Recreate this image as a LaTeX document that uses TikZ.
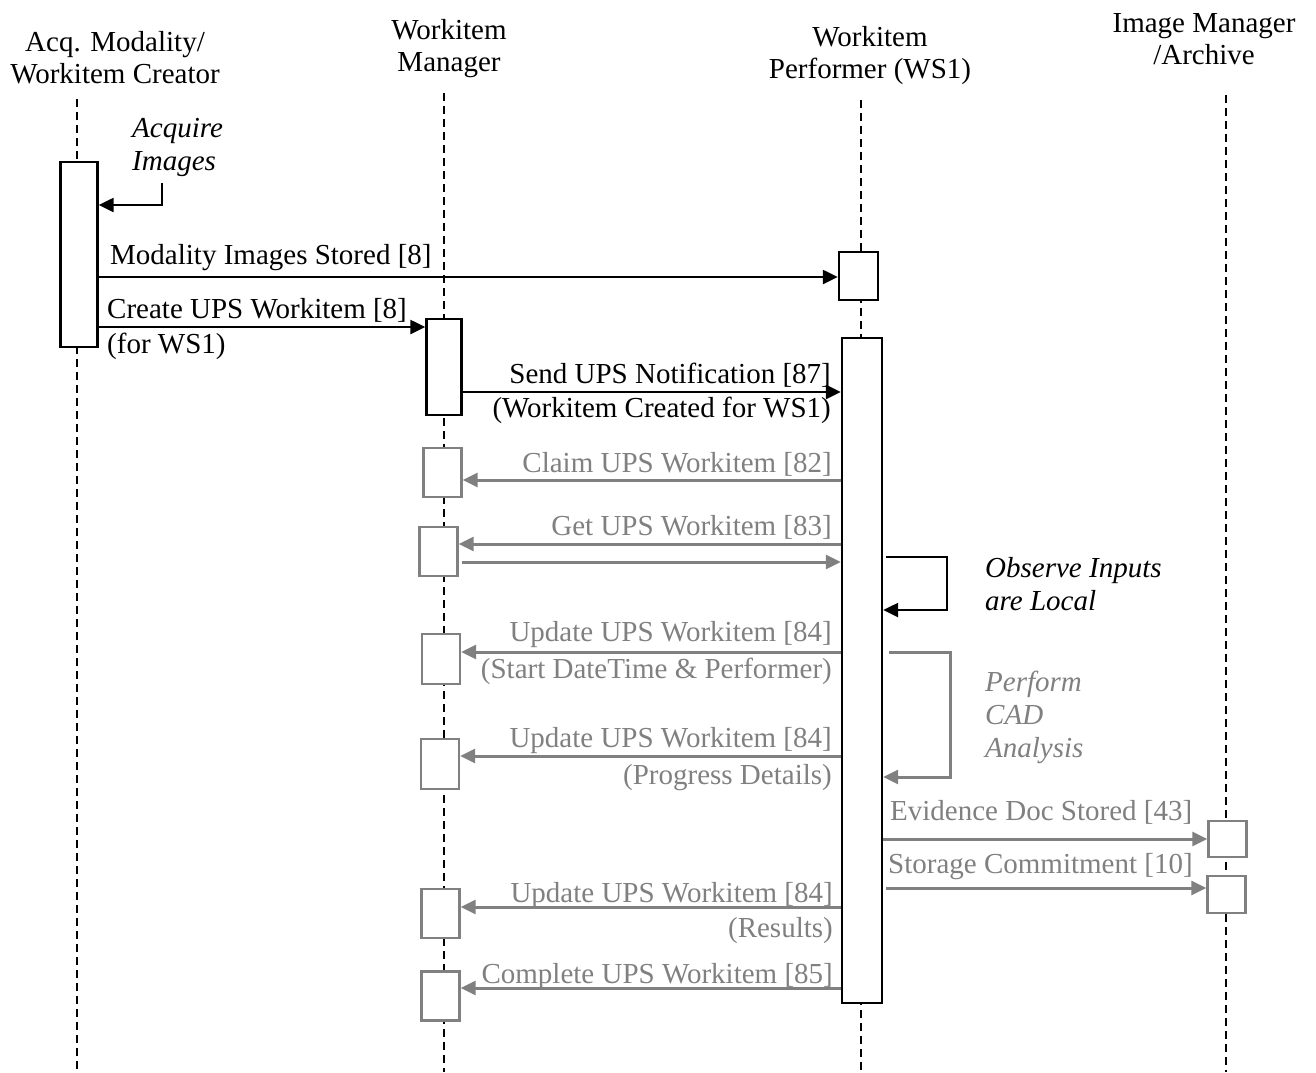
\documentclass[tikz,border=0pt]{standalone}
\usepackage{fontspec}
\setmainfont{Liberation Serif}
\usetikzlibrary{arrows.meta,positioning}
\definecolor{msggray}{RGB}{128,128,128}
\tikzset{
  actor/.style={align=center,inner sep=0pt,font=\fontsize{29}{32}\selectfont},
  lifeline/.style={line width=2pt,dash pattern=on 8pt off 5pt},
  actbox/.style={draw,line width=2.4pt,fill=white,inner sep=0pt},
  gactbox/.style={draw=msggray,line width=2.4pt,fill=white,inner sep=0pt,
    minimum width=38,minimum height=49},
  msg/.style={-{Triangle[length=15pt,width=14pt]},line width=2.4pt},
  gmsg/.style={-{Triangle[length=15pt,width=14pt]},line width=3pt,draw=msggray},
  lab/.style={inner sep=0pt,font=\fontsize{29}{32}\selectfont},
  glab/.style={lab,text=msggray},
  note/.style={inner sep=0pt,align=left,font=\fontsize{29}{33}\selectfont\itshape},
  gnote/.style={note,text=msggray}
}

\begin{document}
\begin{tikzpicture}[x=1pt,y=-1pt]
  \useasboundingbox (0,0) rectangle (1316,1072);

  % actors and lifelines
  \node[actor] (acqhd) at (115,58) {Acq. Modality/\\Workitem Creator};
  \node[actor] (mgrhd) at (449,49) {Workitem\\Manager};
  \node[actor] (perfhd) at (870,55.5) {Workitem\\Performer (WS1)};
  \node[actor] (archhd) at (1204,39.5) {Image Manager\\/Archive};
  \draw[lifeline] (77,99) -- (77,1072);
  \draw[lifeline] (444,93) -- (444,1072);
  \draw[lifeline] (861,100) -- (861,1072);
  \draw[lifeline] (1226,95) -- (1226,1072);

  % activations
  \node[actbox,minimum width=37,minimum height=185] (acq) at (79,254.5) {};
  \node[actbox,minimum width=39,minimum height=48] (perfA) at (858.5,276) {};
  \node[actbox,minimum width=35,minimum height=96] (mgrA) at (444,367) {};
  \node[actbox,minimum width=40,minimum height=665] (perfB) at (862,670.5) {};
  \node[gactbox] (mgr1) at (442.5,472.5) {};
  \node[gactbox] (mgr2) at (438.5,551.5) {};
  \node[gactbox,minimum height=50] (mgr3) at (441,659) {};
  \node[gactbox,minimum height=50] (mgr4) at (440,764) {};
  \node[gactbox] (mgr5) at (440.5,913.5) {};
  \node[gactbox] (mgr6) at (440.5,996) {};
  \node[gactbox,minimum height=36] (arch1) at (1227.5,839) {};
  \node[gactbox,minimum height=37] (arch2) at (1226.5,894.5) {};

  % acquisition
  \draw[msg] (acq.east |- 0,183) ++(63,0) |- (acq.east |- 0,205);
  \node[note,anchor=base west] (acqnote) at (132,170) {Acquire\\Images};

  \draw[msg] (acq.east |- 0,277) -- (perfA.west |- 0,277);
  \node[lab,anchor=base west] at (110,264) {Modality Images Stored [8]};

  \draw[msg] (acq.east |- 0,327) -- (mgrA.west |- 0,327);
  \node[lab,anchor=base west] at (107,318) {Create UPS Workitem [8]};
  \node[lab,anchor=base west] at (107,353) {(for WS1)};

  \draw[msg] (mgrA.east |- 0,392) -- (perfB.west |- 0,392);
  \node[lab,anchor=base east] at (831,383) {Send UPS Notification [87]};
  \node[lab,anchor=base east] at (831,417) {(Workitem Created for WS1)};

  % performer work
  \draw[gmsg] (perfB.west |- 0,480) -- (mgr1.east |- 0,480);
  \node[glab,anchor=base east] at (832,472) {Claim UPS Workitem [82]};

  \draw[gmsg] (perfB.west |- 0,544) -- (mgr2.east |- 0,544);
  \node[glab,anchor=base east] at (832,535) {Get UPS Workitem [83]};
  \draw[gmsg] (mgr2.east |- 0,562) ++(3,0) -- (perfB.west |- 0,562);

  \draw[msg] (perfB.east |- 0,557) ++(3,0) -- ++(61,0) |- (perfB.east |- 0,610);
  \node[note,anchor=base west] (obsnote) at (985,610) {Observe Inputs\\are Local};

  \draw[gmsg] (perfB.west |- 0,652) -- (mgr3.east |- 0,652);
  \node[glab,anchor=base east] at (832,641) {Update UPS Workitem [84]};
  \node[glab,anchor=base east] at (832,678) {(Start DateTime \& Performer)};

  \draw[gmsg] (perfB.east |- 0,652) ++(6,0) -- ++(61,0) |- (perfB.east |- 0,777);
  \node[gnote,anchor=base west] (cadnote) at (985,757) {Perform\\CAD\\Analysis};

  \draw[gmsg] (perfB.west |- 0,756) -- (mgr4.east |- 0,756);
  \node[glab,anchor=base east] at (832,747) {Update UPS Workitem [84]};
  \node[glab,anchor=base east] at (832,784) {(Progress Details)};

  % storage
  \draw[gmsg] (perfB.east |- 0,839) -- (arch1.west |- 0,839);
  \node[glab,anchor=base west] at (890,820) {Evidence Doc Stored [43]};
  \draw[gmsg] (perfB.east |- 0,888) ++(3,0) -- (arch2.west |- 0,888);
  \node[glab,anchor=base west] at (888,873) {Storage Commitment [10]};

  % completion
  \draw[gmsg] (perfB.west |- 0,907) -- (mgr5.east |- 0,907);
  \node[glab,anchor=base east] at (833,902) {Update UPS Workitem [84]};
  \node[glab,anchor=base east] at (833,937) {(Results)};

  \draw[gmsg] (perfB.west |- 0,988) -- (mgr6.east |- 0,988);
  \node[glab,anchor=base east] at (833,983) {Complete UPS Workitem [85]};
\end{tikzpicture}
\end{document}
